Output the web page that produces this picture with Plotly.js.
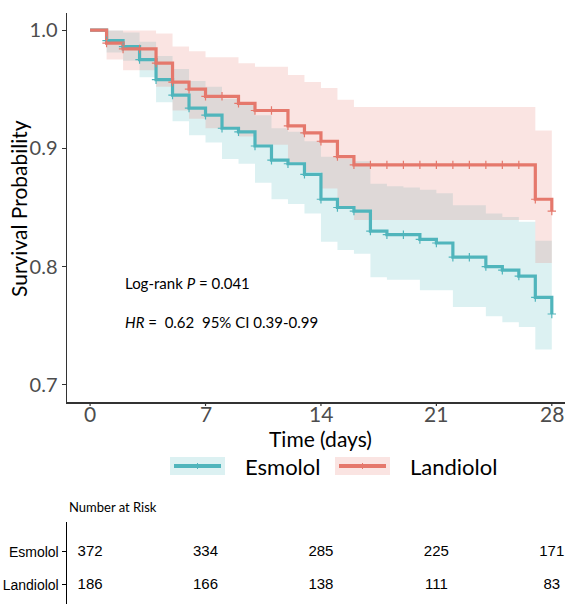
<!DOCTYPE html>
<html>
<head>
<meta charset="utf-8">
<script src="https://cdn.plot.ly/plotly-3.0.1.min.js"></script>
<style>html,body{margin:0;padding:0;background:#fff;}#chart{width:565px;height:604px;}</style>
</head>
<body>
<div id="chart"></div>
<script>
// ---- data ----
const days = [0,1,2,3,4,5,6,7,8,9,10,11,12,13,14,15,16,17,18,19,20,21,22,23,24,25,26,27,28];

const esmololSurv  = [1.0,0.991,0.986,0.975,0.958,0.945,0.934,0.928,0.917,0.914,0.902,0.890,0.887,0.878,0.857,0.850,0.847,0.830,0.827,0.827,0.823,0.820,0.808,0.808,0.800,0.797,0.792,0.774,0.760];
const esmololUpper = [1.0,0.9995,0.998,0.990,0.978,0.967,0.957,0.952,0.942,0.939,0.928,0.917,0.914,0.906,0.893,0.891,0.889,0.870,0.868,0.867,0.865,0.862,0.852,0.852,0.845,0.842,0.838,0.822,0.822];
const esmololLower = [1.0,0.981,0.974,0.960,0.939,0.923,0.911,0.905,0.891,0.887,0.871,0.857,0.853,0.845,0.821,0.814,0.811,0.791,0.789,0.789,0.780,0.780,0.766,0.766,0.758,0.753,0.749,0.730,0.730];

const landiololSurv  = [1.0,0.989,0.984,0.984,0.972,0.956,0.950,0.944,0.944,0.938,0.932,0.932,0.919,0.913,0.906,0.893,0.886,0.886,0.886,0.886,0.886,0.886,0.886,0.886,0.886,0.886,0.886,0.857,0.847];
const landiololUpper = [1.0,0.9995,0.9995,0.9995,0.997,0.986,0.982,0.977,0.977,0.972,0.969,0.969,0.962,0.956,0.951,0.941,0.935,0.935,0.935,0.935,0.935,0.935,0.935,0.935,0.935,0.935,0.935,0.915,0.915];
const landiololLower = [1.0,0.975,0.966,0.966,0.952,0.932,0.925,0.917,0.917,0.910,0.903,0.903,0.888,0.880,0.866,0.851,0.8394,0.8394,0.8394,0.8394,0.8394,0.8394,0.8394,0.8394,0.8394,0.8394,0.8394,0.803,0.803];

const censorDays = [1,2,3,4,5,6,7,8,9,10,11,12,13,14,15,16,17,18,19,20,21,22,23,24,25,26,27,28];

const riskTimes = [0,7,14,21,28];
const groups = ['Esmolol','Landiolol'];
const riskEsmolol   = [372,334,285,225,171];
const riskLandiolol = [186,166,138,111,83];

const xTicks = [0,7,14,21,28];
const yTicks = [0.7,0.8,0.9,1.0];
const yTickText = ['0.7','0.8','0.9','1.0'];

// ---- styles ----
const teal = '#50B5BC';
const red  = '#E5786C';
const tealFill = 'rgba(82,183,190,0.2)';
const redFill  = 'rgba(232,118,108,0.2)';
const font = 'Lato, "Open Sans", sans-serif';
const tableFont = '"Liberation Sans", Arial, sans-serif';

// pixel helpers for paper-positioned legend / labels
const W = 565, H = 604, ML = 67, PW = W - ML;
const px = v => (v - ML) / PW;
const py = v => 1 - v / H;
const AXIS_Y = 402;

function band(lower, upper, fill) {
  return [
    {x: days, y: lower, mode:'lines', line:{shape:'hv', width:0, color:'rgba(0,0,0,0)'}, showlegend:false, hoverinfo:'skip'},
    {x: days, y: upper, mode:'lines', line:{shape:'hv', width:0, color:'rgba(0,0,0,0)'}, fill:'tonexty', fillcolor: fill, showlegend:false, hoverinfo:'skip'}
  ];
}
function censor(surv, color) {
  const ys = censorDays.map(d => surv[days.indexOf(d)]);
  return {x: censorDays, y: ys, mode:'markers', marker:{symbol:'cross-thin', size:6, color:color, line:{width:1.2, color:color}}, showlegend:false, hoverinfo:'skip'};
}

const traces = [];
traces.push(...band(esmololLower, esmololUpper, tealFill));
traces.push(...band(landiololLower, landiololUpper, redFill));
traces.push({x: days, y: esmololSurv, mode:'lines', line:{shape:'hv', width:3.2, color:teal}, showlegend:false});
traces.push({x: days, y: landiololSurv, mode:'lines', line:{shape:'hv', width:3.2, color:red}, showlegend:false});
traces.push(censor(esmololSurv, teal));
traces.push(censor(landiololSurv, red));

// risk table
traces.push({x: riskTimes, y: riskTimes.map(()=>groups[0]), text: riskEsmolol.map(String), mode:'text', textposition:'middle center', textfont:{family:tableFont, size:15, color:'#000'}, xaxis:'x2', yaxis:'y2', showlegend:false, hoverinfo:'skip'});
traces.push({x: riskTimes, y: riskTimes.map(()=>groups[1]), text: riskLandiolol.map(String), mode:'text', textposition:'middle center', textfont:{family:tableFont, size:15, color:'#000'}, xaxis:'x2', yaxis:'y2', showlegend:false, hoverinfo:'skip'});

// manual legend (boxes + lines + labels)
const legendItems = [
  {name: groups[0], color: teal, fill: tealFill, x0: 170, x1: 225, tx: 243},
  {name: groups[1], color: red,  fill: redFill,  x0: 335, x1: 390, tx: 408}
];
const legY = 466;
const shapes = [];
const extraAnn = [];
legendItems.forEach(it => {
  shapes.push({type:'rect', xref:'paper', yref:'paper', x0:px(it.x0), x1:px(it.x1), y0:py(legY+9), y1:py(legY-9), fillcolor:it.fill, line:{width:0}});
  shapes.push({type:'line', xref:'paper', yref:'paper', x0:px(it.x0+4), x1:px(it.x1-4), y0:py(legY), y1:py(legY), line:{color:it.color, width:4}});
  shapes.push({type:'line', xref:'paper', yref:'paper', x0:px((it.x0+it.x1)/2), x1:px((it.x0+it.x1)/2), y0:py(legY+3), y1:py(legY-3), line:{color:it.color, width:1}});
  extraAnn.push({xref:'paper', yref:'paper', x:px(it.tx), y:py(legY), xanchor:'left', yanchor:'middle', showarrow:false, text:it.name, font:{family:font, size:22, color:'#000'}});
});
// x-axis tick marks and labels, placed at the tick values on the x scale
xTicks.forEach(t => {
  shapes.push({type:'line', xref:'x', yref:'paper', x0:t, x1:t, y0:py(AXIS_Y), y1:py(AXIS_Y+4), line:{color:'#333', width:1.2}});
  extraAnn.push({xref:'x', yref:'paper', x:t, y:py(414), xanchor:'center', yanchor:'middle', showarrow:false, text:String(t), font:{family:font, size:21, color:'#4d4d4d'}});
});

const layout = {
  width:W, height:H,
  margin:{l:ML, r:0, t:0, b:0},
  paper_bgcolor:'#fff', plot_bgcolor:'#fff',
  font:{family:font, color:'#000'},
  showlegend:false,
  xaxis:{domain:[0,1], range:[-1.4,28.8], tickvals:xTicks, ticks:'', showticklabels:false,
         showline:true, linecolor:'#333', linewidth:1.5, showgrid:false, zeroline:false, anchor:'y'},
  yaxis:{domain:[0.3344,0.9785], range:[0.6856,1.0144], tickvals:yTicks, ticktext:yTickText, ticks:'outside', ticklen:4, tickcolor:'#333',
         tickfont:{family:font, size:20, color:'#4d4d4d'}, showline:true, linecolor:'#333', linewidth:1.5, showgrid:false, zeroline:false, anchor:'x'},
  xaxis2:{domain:[0,1], range:[-1.4,28.8], visible:false, anchor:'y2'},
  yaxis2:{domain:[0,0.1358], type:'category', categoryarray:['Landiolol','Esmolol'], categoryorder:'array', range:[-0.576,1.91],
          ticks:'outside', ticklen:4, tickcolor:'#000', showline:true, linecolor:'#000', linewidth:1.5, showgrid:false, zeroline:false,
          tickfont:{family:tableFont, size:14, color:'#000'}, anchor:'x2'},
  shapes: shapes,
  annotations:[
    {xref:'paper', yref:'paper', x:px(320), y:py(438), xanchor:'center', yanchor:'middle', showarrow:false, text:'Time (days)', font:{family:font, size:21, color:'#000'}},
    {xref:'paper', yref:'paper', x:px(19), y:py(209), xanchor:'center', yanchor:'middle', textangle:-90, showarrow:false, text:'Survival Probability', font:{family:font, size:21, color:'#000'}},
    {xref:'x', yref:'y', x:2.0, y:0.786, xanchor:'left', yanchor:'middle', showarrow:false, text:'Log-rank <i>P</i> = 0.041', font:{family:font, size:15, color:'#000'}},
    {xref:'x', yref:'y', x:2.0, y:0.753, xanchor:'left', yanchor:'middle', showarrow:false, text:'<i>HR</i> =  0.62  95% CI 0.39-0.99', font:{family:font, size:15, color:'#000'}},
    {xref:'paper', yref:'paper', x:0, y:py(507), xanchor:'left', yanchor:'middle', showarrow:false, text:'Number at Risk', font:{family:font, size:13, color:'#000'}}
  ].concat(extraAnn)
};

Plotly.newPlot('chart', traces, layout, {displayModeBar:false, staticPlot:true});
</script>
</body>
</html>
